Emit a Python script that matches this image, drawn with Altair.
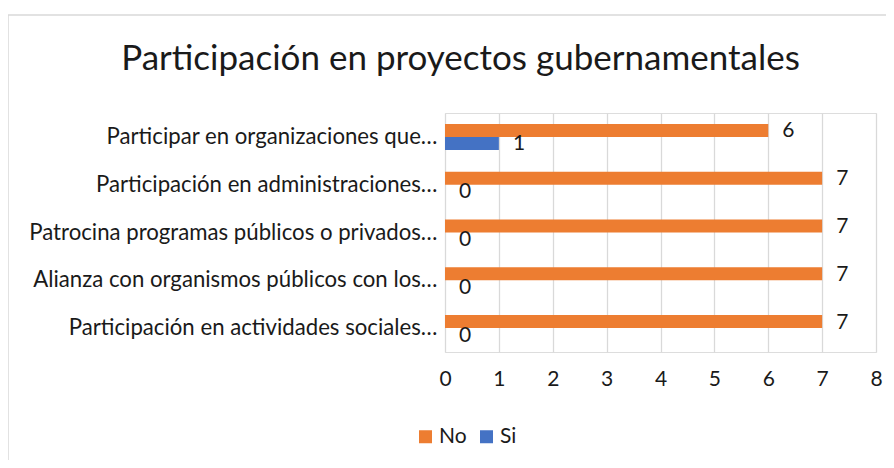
import altair as alt
import pandas as pd

categories = [
    "Participar en organizaciones que…",
    "Participación en administraciones…",
    "Patrocina programas públicos o privados…",
    "Alianza con organismos públicos con los…",
    "Participación en actividades sociales…",
]
series = ["No", "Si"]
no_values = [6, 7, 7, 7, 7]
si_values = [1, 0, 0, 0, 0]
x_ticks = [0, 1, 2, 3, 4, 5, 6, 7, 8]
colors = ["#ED7D31", "#4472C4"]
title_text = "Participación en proyectos gubernamentales"

rows = []
for c, n, s in zip(categories, no_values, si_values):
    rows.append({"cat": c, "serie": "No", "val": n})
    rows.append({"cat": c, "serie": "Si", "val": s})
df = pd.DataFrame(rows)

FONT = "Lato"
TXT = "#1a1a1a"

base = alt.Chart(df)

y_enc = alt.Y("cat:N", sort=categories, title=None,
              scale=alt.Scale(paddingInner=0.456, paddingOuter=0.228),
              axis=alt.Axis(domain=False, ticks=False, labelPadding=8,
                            labelFontSize=22.2, labelFont=FONT, labelColor=TXT,
                            labelLimit=500))
yoff = alt.YOffset("serie:N", sort=series, scale=alt.Scale(paddingInner=0, paddingOuter=0))
x_enc = alt.X("val:Q", title=None,
              scale=alt.Scale(domain=[0, 8], nice=False),
              axis=alt.Axis(values=x_ticks, domain=False, ticks=False, grid=True,
                            gridColor="#d9d9d9", gridWidth=1.3, labelPadding=16,
                            labelFontSize=21, labelFont=FONT, labelColor=TXT,
                            labelFlush=False, format="d"))

bars = base.mark_bar().encode(
    y=y_enc, yOffset=yoff, x=x_enc,
    color=alt.Color("serie:N", sort=series,
                    scale=alt.Scale(domain=series, range=colors),
                    legend=alt.Legend(title=None, orient="none", direction="horizontal",
                                      legendX=-30, legendY=313, symbolType="square",
                                      symbolSize=169, symbolStrokeWidth=0,
                                      labelFontSize=21, labelFont=FONT, labelColor=TXT,
                                      columnPadding=9, labelOffset=3)),
)

labels = base.mark_text(align="left", baseline="middle", dx=14, dy=1, fontSize=21,
                        font=FONT, color=TXT).encode(
    y=alt.Y("cat:N", sort=categories), yOffset=alt.YOffset("serie:N", sort=series),
    x="val:Q", text="val:Q",
)

border_left = alt.Chart(pd.DataFrame({"a": [0]})).mark_rule(color="#d9d9d9", strokeWidth=1.5).encode(
    x=alt.value(-437), y=alt.value(-98), y2=alt.value(360))
border_top = alt.Chart(pd.DataFrame({"a": [0]})).mark_rule(color="#d9d9d9", strokeWidth=1.5).encode(
    x=alt.value(-437), x2=alt.value(445), y=alt.value(-98))

chart = alt.layer(border_left, border_top, bars, labels).properties(
    width=431, height=239,
    autosize=alt.AutoSizeParams(type="none"),
    padding={"left": 437, "top": 105, "right": 10, "bottom": 108},
    title=alt.Title(title_text, fontSize=35, font=FONT, fontWeight="normal",
                    color=TXT, anchor="middle", dx=-200, offset=-63),
).configure_view(stroke=None).configure(background="white")

chart.save("out.html", embed_options={"renderer": "svg", "actions": False})
